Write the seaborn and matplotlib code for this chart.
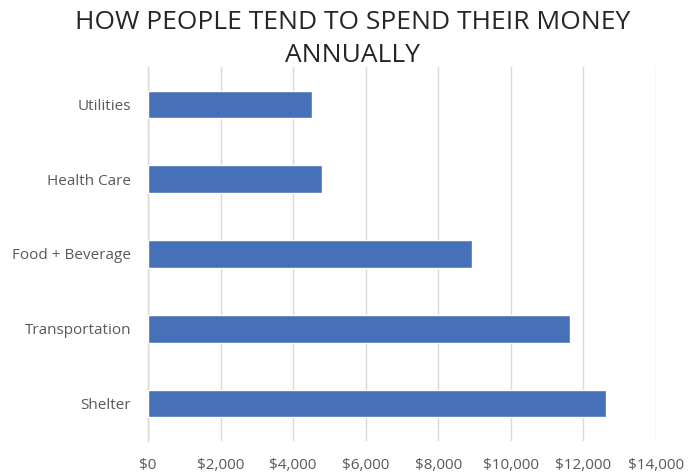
import matplotlib
matplotlib.use("Agg")
import matplotlib.pyplot as plt
import seaborn as sns
import pandas as pd
from matplotlib.ticker import FuncFormatter

categories = ["Utilities", "Health Care", "Food + Beverage", "Transportation", "Shelter"]
values = [4520, 4800, 8930, 11630, 12610]
xticks = [0, 2000, 4000, 6000, 8000, 10000, 12000, 14000]

sns.set_theme(style="white")
plt.rcParams['font.family'] = ['Open Sans', 'DejaVu Sans']

df = pd.DataFrame({"category": categories, "value": values})

fig = plt.figure(figsize=(6.92, 4.74), dpi=100)
ax = fig.add_axes([148/692, 33/474, 508/692, 374/474])

sns.barplot(data=df, y="category", x="value", color="#4670B8", width=0.37,
            saturation=1, ax=ax, zorder=3)

ax.set_xlim(0, 14000)
ax.set_ylim(4.5, -0.5)
ax.set_xticks(xticks)
ax.xaxis.set_major_formatter(FuncFormatter(lambda v, p: f"${int(v):,}"))
ax.grid(axis="x", color="#d9d9d9", linewidth=1, zorder=0)
ax.set_axisbelow(True)
ax.set_xlabel("")
ax.set_ylabel("")
for s in ["top", "right", "bottom"]:
    ax.spines[s].set_visible(False)
ax.spines["left"].set_color("#d9d9d9")
ax.spines["left"].set_linewidth(1)
ax.tick_params(axis="x", length=0, pad=12, labelsize=11, labelcolor="#595959")
ax.tick_params(axis="y", length=0, pad=12, labelsize=11, labelcolor="#595959")

fig.text(0.51, 0.978, "HOW PEOPLE TEND TO SPEND THEIR MONEY\nANNUALLY", ha="center", va="top",
         fontsize=19, color="#262626", linespacing=1.4)

fig.savefig("out.png", dpi=100, facecolor="white")
